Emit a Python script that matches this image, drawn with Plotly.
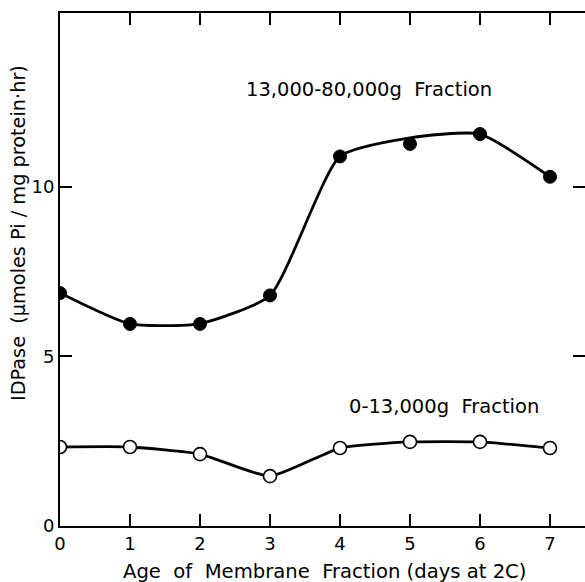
import plotly.graph_objects as go

days = [0, 1, 2, 3, 4, 5, 6, 7]
heavy_fraction = [6.87, 5.96, 5.96, 6.8, 10.9, 11.27, 11.56, 10.3]
heavy_curve = [6.87, 5.96, 5.97, 6.8, 10.9, 11.45, 11.56, 10.3]
light_fraction = [2.33, 2.33, 2.12, 1.47, 2.3, 2.48, 2.48, 2.3]
x_ticks = [0, 1, 2, 3, 4, 5, 6, 7]
y_ticks = [0, 5, 10]

font = "DejaVu Sans, Verdana, sans-serif"

fig = go.Figure()
fig.add_trace(go.Scatter(x=days, y=heavy_curve, mode="lines",
                         line=dict(color="black", width=2.8, shape="spline", smoothing=0.55),
                         hoverinfo="skip", showlegend=False))
fig.add_trace(go.Scatter(x=days, y=heavy_fraction, mode="markers",
                         marker=dict(color="black", size=13, line=dict(color="black", width=1)),
                         showlegend=False, name="13,000-80,000g"))
fig.add_trace(go.Scatter(x=days, y=light_fraction, mode="lines+markers",
                         line=dict(color="black", width=2.8, shape="spline", smoothing=0.5),
                         marker=dict(color="white", size=13, line=dict(color="black", width=1.6)),
                         showlegend=False, name="0-13,000g"))

fig.add_annotation(x=4.41, y=12.86, text="13,000-80,000g  Fraction", showarrow=False,
                   xanchor="center", yanchor="middle", font=dict(size=19.5, color="black", family=font))
fig.add_annotation(x=5.49, y=3.51, text="0-13,000g  Fraction", showarrow=False,
                   xanchor="center", yanchor="middle", font=dict(size=19.5, color="black", family=font))

# axis titles
fig.add_annotation(xref="paper", yref="paper", x=(324 - 60) / 525, y=-(572 - 526) / 513,
                   text="Age  of  Membrane  Fraction (days at 2C)", showarrow=False,
                   xanchor="center", yanchor="middle", font=dict(size=19.6, color="black", family=font))
fig.add_annotation(xref="paper", yref="paper", x=-(60 - 18) / 525, y=(526 - 233) / 513,
                   text="IDPase  (\u03bcmoles Pi / mg protein\u00b7hr)", showarrow=False, textangle=-90,
                   xanchor="center", yanchor="middle", font=dict(size=19.3, color="black", family=font))

fig.update_xaxes(range=[0, 7.5], tickvals=x_ticks, ticktext=[str(v) for v in x_ticks],
                 ticks="inside", ticklen=12, tickwidth=1.5, tickcolor="black",
                 showline=True, linecolor="black", linewidth=2, mirror="ticks",
                 showgrid=False, zeroline=False, automargin=False,
                 tickfont=dict(size=18, color="black", family=font))
fig.update_yaxes(range=[0, 15.13], tickvals=y_ticks, ticktext=[str(v) for v in y_ticks],
                 ticks="inside", ticklen=12, tickwidth=1.5, tickcolor="black",
                 showline=True, linecolor="black", linewidth=2, mirror="ticks",
                 showgrid=False, zeroline=False, automargin=False,
                 tickfont=dict(size=18, color="black", family=font))

fig.update_layout(width=585, height=582, plot_bgcolor="white", paper_bgcolor="white",
                  margin=dict(l=60, r=0, t=13, b=56), showlegend=False)

fig.write_html("out.html", config={"displayModeBar": False},
               post_script="document.body.style.margin='0';document.body.style.overflow='hidden';")
